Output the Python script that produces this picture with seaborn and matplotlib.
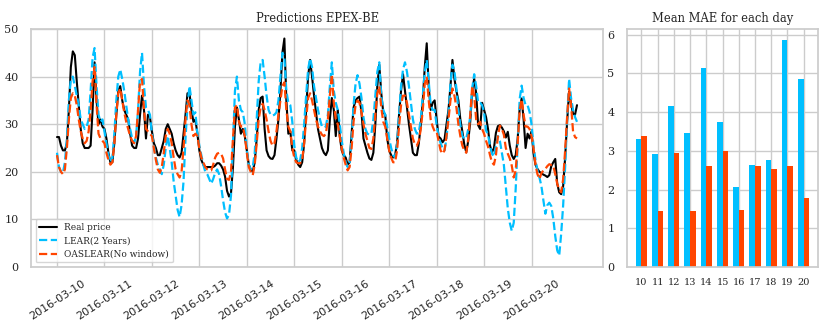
import numpy as np
import pandas as pd
import matplotlib
matplotlib.use("Agg")
import matplotlib.pyplot as plt
import matplotlib.dates as mdates
import seaborn as sns

# ---------------- data ----------------
start_time = "2016-03-10 00:00"

real_price = [
    27.3, 27.3, 25.5, 24.5, 24.5, 26, 33, 42, 45.3, 44.5, 39, 34, 29, 26, 25, 25, 25, 25.5, 33, 43, 35, 30, 31, 29.5,
    29, 27, 24, 22, 22, 26, 32, 37, 38, 35, 33, 32, 31, 28, 25.5, 25, 25, 27, 32, 36, 33, 27, 32, 31.5,
    28.5, 26, 25, 23.5, 23.5, 25, 26.5, 29, 30, 29, 28, 26, 24.5, 23.5, 23, 24, 28, 32, 36.5, 36.5, 33, 30.5, 31, 28,
    24.5, 22.5, 21.5, 21, 21, 21, 21, 21, 21.3, 21.8, 21.8, 21.3, 20.5, 19, 16, 14.8, 15.5, 21, 29.5, 33.5, 31, 28, 29, 27.5,
    24.5, 21.5, 20.5, 20, 22, 27, 33, 35.5, 35.8, 29, 24.5, 23.3, 22.8, 22.7, 23.5, 27, 31, 37, 45, 48, 35, 28, 28.5, 24.5,
    24.5, 22.5, 21.5, 21, 22, 26, 33, 40, 43.5, 40, 36, 32.5, 29, 27, 25, 24, 23.5, 24.5, 31, 35.5, 33, 27.5, 33, 27.5,
    24.5, 23.5, 23, 21.5, 22, 28, 33.5, 35, 35.5, 35.8, 32.5, 27, 25.5, 24, 22.8, 22.5, 24, 30, 38, 42.5, 36.5, 32.5, 32, 27,
    24.5, 23.5, 23, 23.5, 26, 32, 37, 40.5, 37, 33.5, 30, 27, 24, 23.5, 23.5, 26, 30, 35, 42, 47, 38, 33, 34.5, 35,
    31, 27.4, 27, 26.2, 26.8, 30, 33, 38, 43.5, 39.6, 37, 35, 31, 28.5, 25.7, 24.1, 26.5, 30.5, 37, 39.6, 36.5, 29.8, 29, 34.5,
    33, 31.5, 29, 25.5, 24.1, 25, 28.2, 29.6, 29.8, 29.3, 28.5, 27.2, 28.4, 25.5, 23.5, 22.7, 23.5, 27, 33.3, 35.4, 31, 25, 28, 27,
    28.5, 24, 21.5, 20.6, 20, 19.7, 19.4, 19.2, 18.9, 19.3, 21.2, 22, 22.7, 17.5, 15.7, 15.3, 17, 23, 30.5, 36.8, 34.3, 32.2, 32, 34,
]

lear_2_years = [
    24, 21, 20, 19.8, 22, 27, 35, 39.5, 40, 38, 36, 34, 31, 30, 29, 29.5, 31, 37, 44, 46, 38, 32, 30.5, 31,
    28.5, 26, 23.5, 22, 23, 28, 35, 40, 41.5, 39.5, 37, 34, 31, 29, 27, 26, 27.5, 33, 41, 45, 38, 33.5, 33, 32,
    28, 25.5, 23, 21.5, 20.5, 19.5, 21.5, 25, 27.5, 25, 22, 18, 15, 12, 10.5, 13, 18, 27, 34, 38, 35, 32, 32.5, 28,
    25.5, 23.5, 21.5, 20, 19.5, 18.5, 17.5, 18.5, 19.8, 20.5, 19.5, 17, 14, 11.5, 10.2, 11, 15, 26, 37, 40, 35, 33, 32.5, 30,
    24.5, 21.5, 20.5, 21, 24, 31, 39, 43, 43.5, 40, 36, 33, 32, 31.8, 32, 32.5, 35, 40, 45, 44, 37, 34.5, 34, 30.5,
    25.5, 23, 22, 22.5, 25, 30, 36, 41.5, 43.8, 42, 38, 35.5, 33, 31, 29.5, 29.3, 29.5, 32, 38, 43, 37, 34.5, 33, 30,
    26.5, 24, 22, 21, 22, 27, 34, 38.5, 40.3, 38.5, 35.5, 31.5, 29, 28, 27.8, 28, 31, 36, 41, 43, 36, 33, 32, 29.5,
    27, 25, 23.5, 23, 26, 32, 38, 41.5, 43, 41, 38, 34.5, 31, 29, 28, 28.3, 31, 36, 41, 43.5, 39, 34, 33, 33,
    29.8, 27.5, 26, 25, 24.5, 27, 32, 38.5, 42.5, 41.2, 37.5, 33, 29.8, 27.5, 27, 27, 29, 31.5, 37.5, 40.5, 38, 34.5, 34.5, 34,
    32.5, 28.7, 27.8, 25.5, 23.8, 23.2, 25.5, 27.5, 26.5, 24, 21.5, 16.8, 12.3, 9.3, 7.6, 9.3, 16.5, 26, 35.3, 38.1, 35.5, 34, 34, 32.6,
    30, 25.5, 22.5, 20.3, 18.8, 17, 14, 11.2, 13, 13.5, 12.8, 10.2, 6.5, 3.5, 2.4, 7, 13, 21, 31, 39.5, 35.5, 33, 31.5, 30.5,
]

oaslear_no_window = [
    23.5, 21, 20, 19.5, 20.5, 25, 31, 35.5, 36.5, 36, 34, 31, 28.5, 27, 26, 26.5, 28.5, 33, 39, 42, 34, 28, 27, 26.5,
    26, 24, 22.5, 21.5, 22, 26, 32, 36.5, 37.5, 35, 32.5, 30.5, 29, 27.5, 26.5, 26, 27.5, 33, 39, 39.5, 33, 29, 28.5, 28,
    27.5, 25, 22.5, 20.5, 19.8, 21, 24, 27.5, 29, 28, 26, 23, 20.5, 19.5, 18.8, 20, 25, 31, 35, 34, 30, 27.5, 28, 27.5,
    25, 23, 22, 21, 20.5, 20.3, 20.3, 21.5, 23, 23.8, 24, 23.8, 22.8, 20.5, 18.5, 18.3, 20, 27, 33.5, 34, 30.5, 29.5, 29.5, 27.5,
    24, 21, 20, 19.3, 21.5, 26, 31, 33.5, 34.3, 33, 31, 28.5, 26.5, 25.5, 26, 28.5, 32, 35, 38, 38.8, 33, 29.5, 28.5, 25,
    23, 22, 21.8, 21.8, 22.5, 26, 31, 35.5, 36.5, 35, 33, 31, 29.5, 28.5, 27.8, 27.5, 28, 31, 36, 40.5, 34.5, 31, 30, 27.5,
    25, 23, 21.5, 20.3, 21, 25, 30.5, 34, 35, 34.5, 32.5, 30, 28, 26.5, 25, 24.8, 27, 32, 36.5, 38, 33.5, 30.5, 29.5, 27,
    24.5, 23, 22, 22, 24.5, 29.5, 34, 36, 36, 34.5, 32, 29.5, 27, 25.8, 25.5, 26.5, 29, 33, 38.5, 40, 35, 31, 29.5, 28.5,
    28.5, 26.5, 24.5, 23.8, 24.5, 27.5, 31, 35, 37.5, 36, 33.5, 30, 27.5, 25.5, 24.5, 24, 27, 32, 38, 36, 31, 30, 30.5, 29,
    28, 26.5, 25.3, 23.5, 22, 21.5, 23.5, 27.5, 29.7, 29, 27.8, 25, 23.8, 22.8, 21.3, 18.8, 20.3, 26, 33, 35.2, 32, 29.5, 29.5, 29,
    27.5, 25, 21.5, 19.5, 18.5, 19.7, 20.3, 20.6, 21.2, 21.6, 21.4, 21.3, 19.5, 17.5, 16.2, 15.7, 18.5, 24.5, 31.5, 37.5, 34, 28.5, 27.3, 27,
]

day_labels = ["10", "11", "12", "13", "14", "15", "16", "17", "18", "19", "20"]
mae_lear = [3.31, 2.91, 4.15, 3.47, 5.13, 3.75, 2.07, 2.62, 2.76, 5.85, 4.86]
mae_oaslear = [3.39, 1.45, 2.94, 1.45, 2.61, 2.99, 1.48, 2.61, 2.53, 2.61, 1.78]

# ---------------- style ----------------
sns.set_theme(style="whitegrid")
plt.rcParams["font.family"] = ["DejaVu Serif"]

fig = plt.figure(figsize=(8.3, 3.32), dpi=100)
ax1 = fig.add_axes([31 / 830, 65 / 332, 572 / 830, 238 / 332])
ax2 = fig.add_axes([627 / 830, 65 / 332, 191 / 830, 238 / 332])

times = pd.date_range(start_time, periods=len(real_price), freq="h")
day_ticks = pd.date_range(start_time, periods=len(day_labels), freq="D")

sns.lineplot(x=times, y=real_price, color="black", lw=1.5, label="Real price", ax=ax1)
sns.lineplot(x=times, y=lear_2_years, color="deepskyblue", lw=1.6, linestyle="--",
             label="LEAR(2 Years)", ax=ax1)
sns.lineplot(x=times, y=oaslear_no_window, color="orangered", lw=1.6, linestyle="--",
             label="OASLEAR(No window)", ax=ax1)

ax1.set_ylim(0, 50)
ax1.set_yticks([0, 10, 20, 30, 40, 50])
ax1.set_xticks(day_ticks)
ax1.xaxis.set_major_formatter(mdates.DateFormatter("%Y-%m-%d"))
for lab in ax1.get_xticklabels():
    lab.set_rotation(33)
    lab.set_ha("center")
    lab.set_fontfamily("DejaVu Sans")
    lab.set_fontsize(8)
ax1.tick_params(axis="y", labelsize=8, pad=3)
ax1.tick_params(axis="x", pad=2)
ax1.set_xlabel("")
ax1.set_ylabel("")
ax1.set_title("Predictions EPEX-BE", fontsize=8.3, pad=5)
ax1.legend(loc="lower left", fontsize=6.5)

bars = pd.DataFrame({
    "day": day_labels * 2,
    "mae": mae_lear + mae_oaslear,
    "model": ["LEAR"] * len(day_labels) + ["OASLEAR"] * len(day_labels),
})
sns.barplot(data=bars, x="day", y="mae", hue="model",
            palette=["deepskyblue", "orangered"], width=0.7, saturation=1,
            linewidth=0, legend=False, ax=ax2)
ax2.xaxis.grid(True)
ax2.set_axisbelow(True)
ax2.set_xlim(-0.885, len(day_labels) - 1 + 0.885)
ax2.set_yticks([0, 1, 2, 3, 4, 5, 6])
ax2.tick_params(axis="x", labelsize=7, pad=2)
ax2.tick_params(axis="y", labelsize=8, pad=3)
ax2.set_xlabel("")
ax2.set_ylabel("")
ax2.set_title("Mean MAE for each day", fontsize=8.3, pad=5)

fig.savefig("out.png", dpi=100)
